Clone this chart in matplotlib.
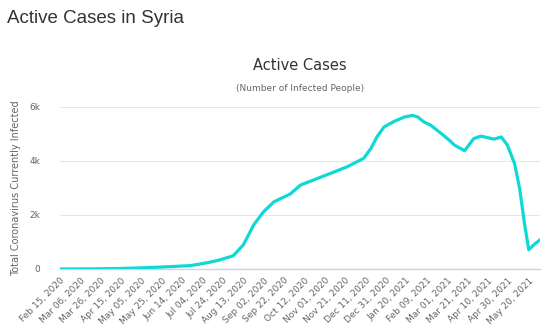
import matplotlib
matplotlib.use("Agg")
import matplotlib.pyplot as plt
import matplotlib.ticker as mticker
import pandas as pd

# active cases, sampled along the curve
dates = [
    "2020-02-15", "2020-03-20", "2020-04-15", "2020-05-04", "2020-05-26",
    "2020-06-22", "2020-07-11", "2020-07-21", "2020-08-03", "2020-08-13",
    "2020-08-23", "2020-09-02", "2020-09-12", "2020-09-28", "2020-10-08",
    "2020-10-21", "2020-11-05", "2020-11-23", "2020-12-09", "2020-12-16",
    "2020-12-22", "2020-12-29", "2021-01-08", "2021-01-18", "2021-01-26",
    "2021-01-31", "2021-02-06", "2021-02-13", "2021-02-23", "2021-03-03",
    "2021-03-08", "2021-03-18", "2021-03-27", "2021-04-03", "2021-04-16",
    "2021-04-23", "2021-04-29", "2021-05-06", "2021-05-11", "2021-05-16",
    "2021-05-20", "2021-05-25", "2021-05-31",
]
active = [
    0, 5, 20, 40, 75,
    125, 250, 340, 490, 900,
    1630, 2130, 2490, 2780, 3110,
    3300, 3520, 3790, 4100, 4460,
    4890, 5260, 5470, 5630, 5690,
    5630, 5450, 5320, 5020, 4770,
    4590, 4380, 4830, 4920, 4810,
    4890, 4590, 3910, 2990, 1630,
    710, 900, 1080,
]

x = pd.to_datetime(dates)
start = pd.Timestamp("2020-02-15")
end = pd.Timestamp("2021-05-31")
ticks = pd.date_range(start, "2021-05-20", freq="20D")

grey = "#666666"
fig = plt.figure(figsize=(5.52, 3.35), dpi=100)
fig.text(0.012, 0.945, "Active Cases in Syria", fontsize=13.5,
         family="Liberation Sans", color="#333333", va="center")

ax = fig.add_axes([60 / 552, 66 / 335, 480 / 552, 162 / 335])
ax.plot(x, active, color="#0fd9d6", lw=2.3, solid_capstyle="round",
        solid_joinstyle="round", zorder=3)

ax.set_xlim(start, end)
ax.set_ylim(0, 6000)
ax.set_yticks([0, 2000, 4000, 6000])
ax.yaxis.set_major_formatter(mticker.FuncFormatter(
    lambda v, _: "0" if v == 0 else f"{v / 1000:.0f}k"))
ax.set_xticks(ticks)
ax.set_xticklabels([t.strftime("%b %d, %Y") for t in ticks], rotation=45,
                   ha="right", va="top", rotation_mode="anchor")
ax.tick_params(axis="both", length=0, labelsize=6.5, labelcolor=grey)
ax.tick_params(axis="x", pad=5)
ax.tick_params(axis="y", pad=14)
ax.grid(axis="y", color="#e6e6e6", lw=0.8)
ax.set_axisbelow(True)
for s in ["top", "right", "left"]:
    ax.spines[s].set_visible(False)
ax.spines["bottom"].set_color("#ccd6eb")
ax.spines["bottom"].set_linewidth(1)
ax.set_ylabel("Total Coronavirus Currently Infected", fontsize=7,
              color=grey, labelpad=6)

fig.text(300 / 552, 1 - 65 / 335, "Active Cases", fontsize=10.5,
         color="#333333", ha="center", va="center")
fig.text(300 / 552, 1 - 88 / 335, "(Number of Infected People)", fontsize=6.5,
         color=grey, ha="center", va="center")

fig.savefig("out.png", dpi=100)
